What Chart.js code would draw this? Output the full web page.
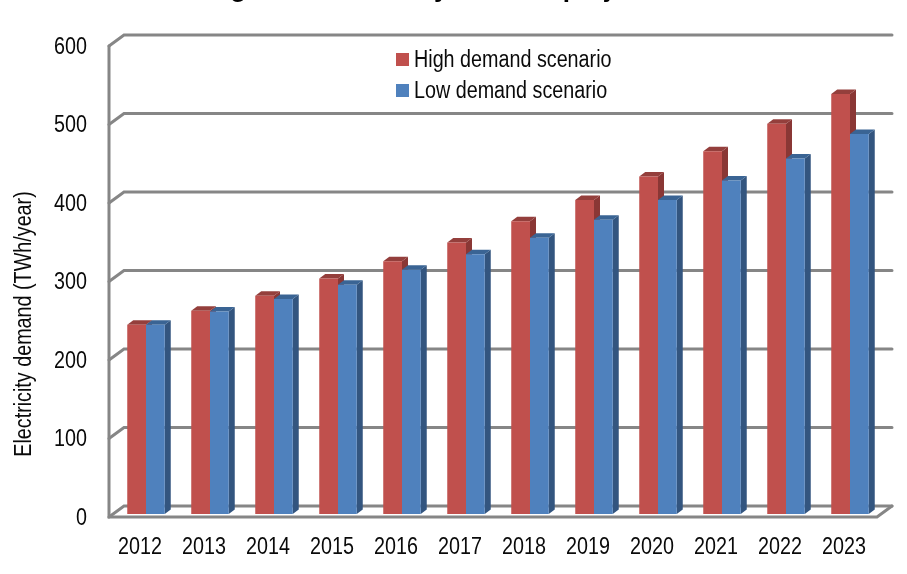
<!DOCTYPE html>
<html>
<head>
<meta charset="utf-8">
<title>Electricity demand</title>
<script src="https://cdn.jsdelivr.net/npm/chart.js@4"></script>
<style>
  html, body { margin: 0; padding: 0; background: #fff; }
  canvas { display: block; }
</style>
</head>
<body>
<canvas id="chartContainer" width="907" height="574"></canvas>
<script>
const years = ["2012", "2013", "2014", "2015", "2016", "2017", "2018", "2019", "2020", "2021", "2022", "2023"];
const highDemand = [241, 259, 278, 300, 322, 346, 373, 400, 430, 462, 497, 535];
const lowDemand = [241, 258, 274, 292, 311, 331, 352, 375, 400, 425, 453, 484];
const titleText = "Figure 1: Electricity demand projections";
const yAxisTitle = "Electricity demand (TWh/year)";

const sans = "'Liberation Sans', sans-serif";
const fontSize = 23.5;
const textColor = "#0a0a0a";
const gridColor = "#868686";

// fake 3D: the walls and the bar sides are drawn around the real bars
const wall = {
  frontDx: -5, frontDy: 3, // front edge of floor/left wall, relative to the bar plane
  backDx: 10, backDy: -8, // back wall, relative to the bar plane
};
const barDepth = { x: 6, y: -4.5 };
const barSides = [
  { side: "#8a3735", top: "#943f3c" },
  { side: "#33557f", top: "#3a6494" },
];

const wallsAndSides = {
  id: "wallsAndSides",
  beforeDatasetsDraw(chart) {
    const { ctx, chartArea, scales } = chart;
    const left = chartArea.left;
    const right = chartArea.right;
    ctx.save();
    ctx.strokeStyle = gridColor;
    ctx.lineWidth = 3;
    ctx.lineCap = "round";
    scales.y.ticks.forEach((tick) => {
      const y = scales.y.getPixelForValue(tick.value);
      ctx.beginPath();
      ctx.moveTo(left + wall.frontDx, y + wall.frontDy);
      ctx.lineTo(left + wall.backDx, y + wall.backDy);
      ctx.lineTo(right + wall.backDx, y + wall.backDy);
      ctx.stroke();
    });
    // left wall edge and floor
    const top = scales.y.getPixelForValue(scales.y.max);
    const base = scales.y.getPixelForValue(0);
    ctx.beginPath();
    ctx.moveTo(left + wall.frontDx, top + wall.frontDy);
    ctx.lineTo(left + wall.frontDx, base + wall.frontDy);
    ctx.lineTo(right + wall.frontDx, base + wall.frontDy);
    ctx.lineTo(right + wall.backDx, base + wall.backDy);
    ctx.stroke();
    ctx.restore();

    // bar sides go under the fronts, so the low series covers the high one
    years.forEach((year, i) => {
      chart.data.datasets.forEach((ds, d) => {
        const bar = chart.getDatasetMeta(d).data[i];
        const half = bar.width / 2;
        const x1 = bar.x - half;
        const x2 = bar.x + half;
        ctx.fillStyle = barSides[d].side;
        ctx.beginPath();
        ctx.moveTo(x2, bar.y);
        ctx.lineTo(x2 + barDepth.x, bar.y + barDepth.y);
        ctx.lineTo(x2 + barDepth.x, bar.base + barDepth.y);
        ctx.lineTo(x2, bar.base);
        ctx.closePath();
        ctx.fill();
        ctx.fillStyle = barSides[d].top;
        ctx.beginPath();
        ctx.moveTo(x1, bar.y);
        ctx.lineTo(x1 + barDepth.x, bar.y + barDepth.y);
        ctx.lineTo(x2 + barDepth.x, bar.y + barDepth.y);
        ctx.lineTo(x2, bar.y);
        ctx.closePath();
        ctx.fill();
      });
    });
  },
  afterDraw(chart) {
    const { ctx } = chart;
    ctx.save();
    // title sits mostly above the top of the picture
    ctx.fillStyle = "#000";
    ctx.font = "bold 26px " + sans;
    ctx.textAlign = "center";
    ctx.textBaseline = "alphabetic";
    plainFillText.call(ctx, titleText, 455, -3);
    // legend
    ctx.font = fontSize + "px " + sans;
    ctx.textAlign = "left";
    ctx.textBaseline = "middle";
    chart.data.datasets.forEach((ds, d) => {
      const y = 59.5 + d * 31;
      ctx.fillStyle = ds.backgroundColor;
      ctx.fillRect(396, y - 6.5, 13, 13);
      ctx.fillStyle = textColor;
      ctx.fillText(ds.label, 414, y + 1);
    });
    // axis title is not centred on the axis in the original
    ctx.translate(25, 324);
    ctx.rotate(-Math.PI / 2);
    ctx.textAlign = "center";
    ctx.fillText(yAxisTitle, 0, 0);
    ctx.restore();
  },
};

const data = {
  labels: years,
  datasets: [
    { label: "High demand scenario", data: highDemand, backgroundColor: "#C0504D" },
    { label: "Low demand scenario", data: lowDemand, backgroundColor: "#4F81BD" },
  ],
};

const config = {
  type: "bar",
  data: data,
  options: {
    responsive: false,
    animation: false,
    layout: { padding: { top: 43, right: 25, left: 0, bottom: 0 } },
    categoryPercentage: 0.586,
    barPercentage: 1,
    scales: {
      x: {
        grid: { display: false },
        border: { display: false },
        afterFit: (scale) => { scale.height = 60; },
        ticks: {
          color: textColor,
          font: { family: sans, size: fontSize },
          padding: 11,
          labelOffset: -6,
          maxRotation: 0,
        },
      },
      y: {
        min: 0,
        max: 600,
        grid: { display: false, drawTicks: false },
        border: { display: false },
        afterFit: (scale) => { scale.width = 114; },
        ticks: {
          stepSize: 100,
          color: textColor,
          font: { family: sans, size: fontSize },
          padding: 27,
          labelOffset: 4.5,
        },
      },
    },
    plugins: {
      legend: { display: false },
      tooltip: { enabled: false },
    },
  },
  plugins: [wallsAndSides],
};

const ctx = document.getElementById("chartContainer").getContext("2d");

// no narrow font here, so squeeze all chart text sideways like Arial Narrow
const plainFillText = ctx.fillText;
ctx.fillText = function (text, x, y) {
  plainFillText.call(ctx, text, x, y, ctx.measureText(text).width * 0.84);
};

const demandChart = new Chart(ctx, config);
</script>
</body>
</html>
